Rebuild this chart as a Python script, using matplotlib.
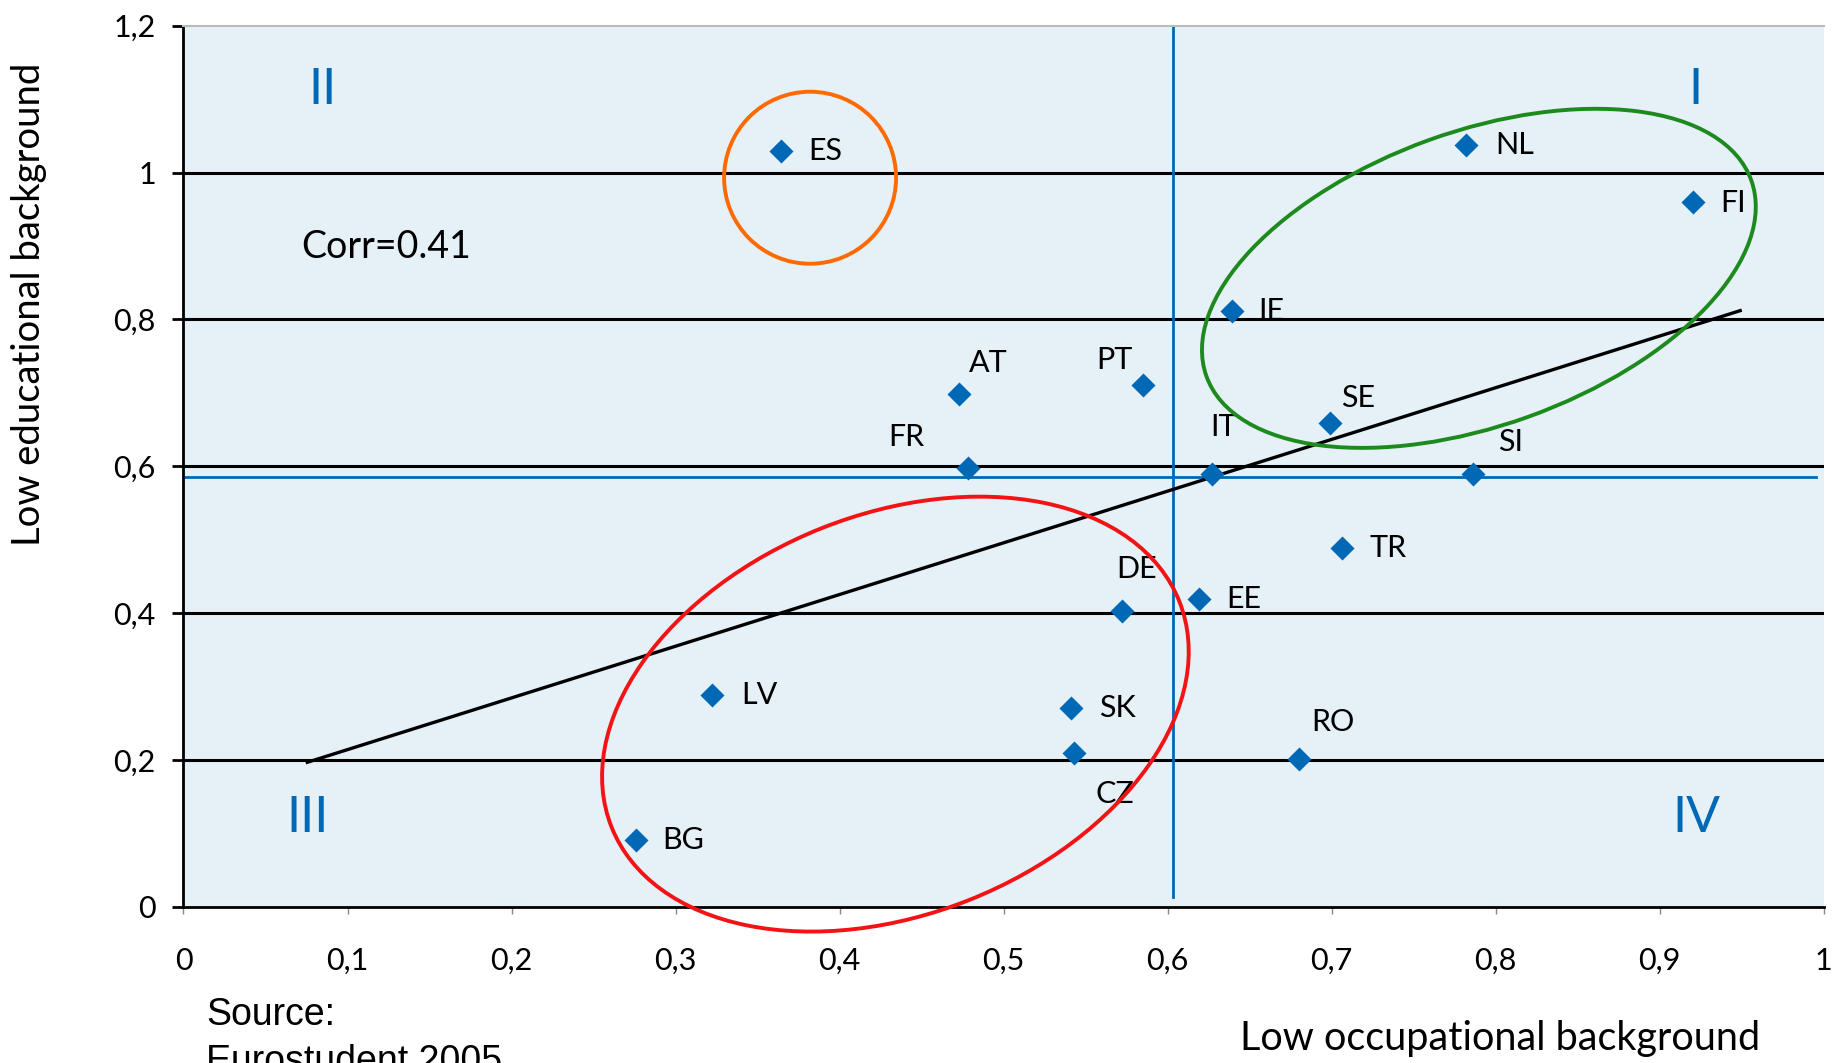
import matplotlib
matplotlib.use("Agg")
import matplotlib.pyplot as plt
from matplotlib.patches import Ellipse
from matplotlib.transforms import IdentityTransform

plt.rcParams['font.family'] = ['Lato', 'DejaVu Sans']

# shares of students by background, per country
countries = ["ES", "NL", "FI", "IE", "AT", "PT", "SE", "FR", "IT",
             "SI", "TR", "DE", "EE", "LV", "SK", "CZ", "RO", "BG"]
occupational = [0.364, 0.782, 0.920, 0.639, 0.473, 0.585, 0.699, 0.478, 0.627,
                0.786, 0.706, 0.572, 0.619, 0.322, 0.541, 0.543, 0.680, 0.276]
educational = [1.030, 1.038, 0.960, 0.812, 0.699, 0.711, 0.659, 0.598, 0.589,
               0.589, 0.489, 0.403, 0.419, 0.288, 0.271, 0.210, 0.201, 0.091]
# label offsets in points (dx, dy)
label_offsets = [(20, 0), (21, 0), (20, -1), (19, 0), (7, 22), (-34, 18), (8, 18),
                 (-57, 22), (-1, 34), (18, 23), (20, 0), (-4, 30), (20, 0), (21, 0),
                 (20, 0), (15, -30), (9, 27), (19, 0)]

mean_occ = 0.603
mean_edu = 0.586
trend_x = [0.0755, 0.949]
trend_y = [0.197, 0.812]
corr_text = "Corr=0.41"

xticks = [0, 0.1, 0.2, 0.3, 0.4, 0.5, 0.6, 0.7, 0.8, 0.9, 1.0]
xticklabels = ["0", "0,1", "0,2", "0,3", "0,4", "0,5", "0,6", "0,7", "0,8", "0,9", "1"]
yticks = [0, 0.2, 0.4, 0.6, 0.8, 1.0, 1.2]
yticklabels = ["0", "0,2", "0,4", "0,6", "0,8", "1", "1,2"]

blue = "#0068B5"

fig = plt.figure(figsize=(18.33, 10.63), dpi=100)
ax = fig.add_axes([0.1001, 0.1468, 0.8949, 0.829])
ax.set_facecolor("#E5F0F7")
ax.set_xlim(0, 1)
ax.set_ylim(0, 1.2)

for gy in yticks[1:-1]:
    ax.axhline(gy, color="black", lw=2.2, zorder=1)

ax.spines["top"].set_color("#BBBBBB")
ax.spines["top"].set_linewidth(1.5)
ax.spines["right"].set_visible(False)
ax.spines["left"].set_linewidth(2)
ax.spines["bottom"].set_linewidth(2)

ax.set_xticks(xticks)
ax.set_xticklabels(xticklabels)
ax.set_yticks(yticks)
ax.set_yticklabels(yticklabels)
ax.tick_params(axis="x", length=5, width=1, color="#888888", pad=24, labelsize=22)
ax.tick_params(axis="y", length=8, width=2, color="black", pad=12, labelsize=22)

# means
ax.plot([mean_occ, mean_occ], [0.013, 1.2], color=blue, lw=2, zorder=2, clip_on=False)
ax.plot([0, 0.995], [mean_edu, mean_edu], color=blue, lw=2, zorder=2)

# trend line
ax.plot(trend_x, trend_y, color="black", lw=2.4, zorder=3)

ax.scatter(occupational, educational, marker="D", s=150, color=blue, zorder=5, linewidths=0)
for c, x, y, off in zip(countries, occupational, educational, label_offsets):
    ax.annotate(c, (x, y), xytext=off, textcoords="offset points",
                ha="left", va="center", fontsize=22, color="black", zorder=6)

ax.text(0.072, 0.899, corr_text, fontsize=27, va="center", ha="left")

for txt, x, y in [("II", 0.0848, 1.1125), ("I", 0.922, 1.1125),
                  ("III", 0.0756, 0.121), ("IV", 0.9223, 0.121)]:
    ax.text(x, y, txt, fontsize=36, color=blue, ha="center", va="center")

# highlighted groups, sized in pixels
fig.canvas.draw()
groups = [((0.382, 0.993), 172, 172, 0, "#FF6A00"),
          ((0.7897, 0.856), 579, 294, 19.8, "#1C8A1C"),
          ((0.434, 0.2626), 611, 400, 21.7, "#F21414")]
for center, w, h, ang, col in groups:
    cx, cy = ax.transData.transform(center)
    e = Ellipse((cx, cy), w, h, angle=ang, fill=False, edgecolor=col, lw=2.8,
                transform=IdentityTransform(), zorder=7)
    fig.add_artist(e)

fig.text(29 / 1833, 1 - 304 / 1063, "Low educational background", rotation=90,
         ha="center", va="center", fontsize=27.5)
fig.text(1500 / 1833, 1 - 1050 / 1063, "Low occupational background",
         ha="center", va="baseline", fontsize=28.5)
fig.text(206 / 1833, 1 - 1025 / 1063, "Source:", family="Liberation Sans",
         ha="left", va="baseline", fontsize=27)
fig.text(206 / 1833, 1 - 1072 / 1063, "Eurostudent 2005", family="Liberation Sans",
         ha="left", va="baseline", fontsize=27)

fig.savefig("out.png", dpi=100)
